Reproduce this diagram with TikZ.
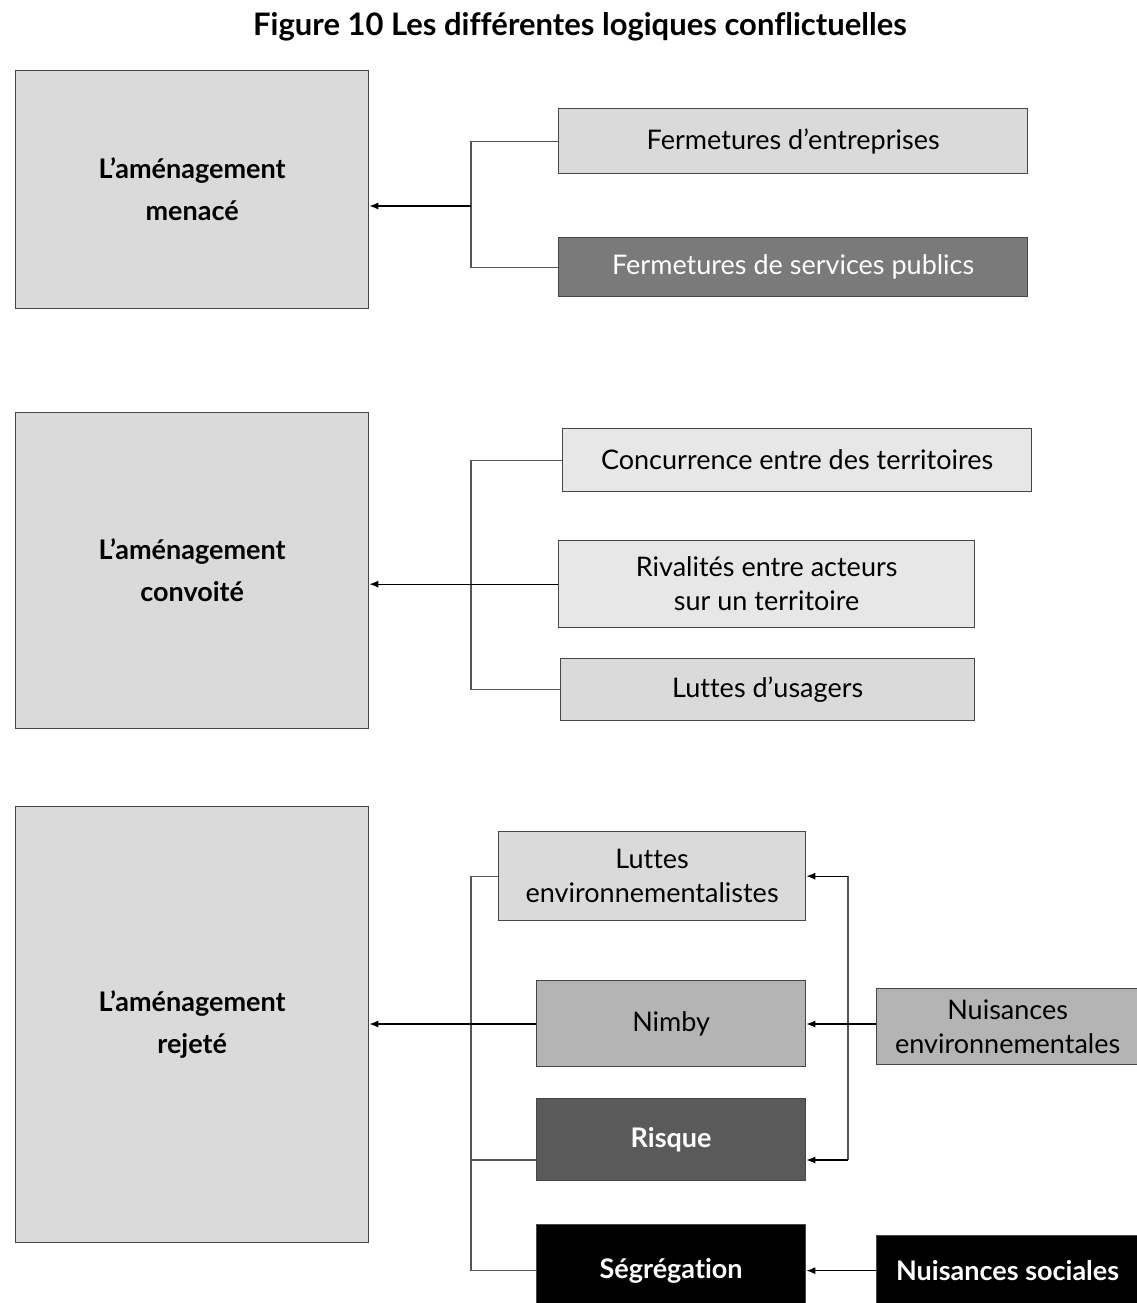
\documentclass[tikz,border=0pt]{standalone}
\usepackage{fontspec}
\setmainfont{Lato}[Ligatures=NoCommon]
\usepackage{tikz}
\usepackage{xcolor}
\usetikzlibrary{shapes,arrows,arrows.meta,positioning,calc}
\definecolor{boxgrey}{RGB}{218,218,218}
\definecolor{palegrey}{RGB}{231,231,231}
\definecolor{midgrey}{RGB}{180,180,180}
\definecolor{darkgrey}{RGB}{122,122,122}
\definecolor{deepgrey}{RGB}{90,90,90}
\definecolor{framegrey}{RGB}{70,70,70}
\definecolor{linkgrey}{RGB}{85,85,85}

\begin{document}
\begin{tikzpicture}[x=1pt,y=-1pt,
    box/.style={draw=framegrey,line width=1.3pt,anchor=north west,align=center,
        inner sep=2pt,font=\fontsize{27}{34}\selectfont},
    boldbox/.style={box,text=white,font=\fontsize{27}{34}\selectfont\bfseries},
    mainbox/.style={box,fill=boxgrey,minimum width=353pt,font=\fontsize{27}{42}\selectfont\bfseries},
    link/.style={draw=linkgrey,line width=1.2pt},
    arrow/.style={link,draw=black,-{Latex[length=9pt,width=7pt]}}]
    \useasboundingbox (0,0) rectangle (1136,1303);
    \node (title) at (580,27) {\fontsize{31}{34}\selectfont\bfseries Figure 10 Les différentes logiques conflictuelles};

    % L'amenagement menace
    \node[mainbox,minimum height=238pt] (m1) at (15,70) {L’aménagement\\menacé};
    \node[box,fill=boxgrey,minimum width=469pt,minimum height=65pt] (fe) at (558,108) {Fermetures d’entreprises};
    \node[box,fill=darkgrey,text=white,minimum width=469pt,minimum height=59pt] (fsp) at (558,237) {Fermetures de services publics};
    \coordinate (j1) at (471,206);
    \draw[link] (fe.west) -| (j1) |- (fsp.west);
    \draw[arrow] (j1) -- (j1 -| m1.east);

    % L'amenagement convoite
    \node[mainbox,minimum height=316pt] (m2) at (15,412) {L’aménagement\\convoité};
    \node[box,fill=palegrey,minimum width=469pt,minimum height=63pt] (conc) at (562,428) {Concurrence entre des territoires};
    \node[box,fill=palegrey,minimum width=416pt,minimum height=87pt] (riv) at (558,540) {Rivalités entre acteurs\\sur un territoire};
    \node[box,fill=boxgrey,minimum width=414pt,minimum height=62pt] (lu) at (560,658) {Luttes d’usagers};
    \coordinate (j2) at (471,584);
    \draw[link] (conc.west) -| (j2) |- (lu.west);
    \draw[arrow] (riv.west) -- (riv.west -| m2.east);

    % L'amenagement rejete
    \node[mainbox,minimum height=436pt] (m3) at (15,806) {L’aménagement\\rejeté};
    \node[box,fill=boxgrey,minimum width=307pt,minimum height=89pt] (le) at (498,831) {Luttes\\environnementalistes};
    \node[box,fill=midgrey,minimum width=269pt,minimum height=86pt] (nim) at (536,980) {Nimby};
    \node[boldbox,fill=deepgrey,minimum width=269pt,minimum height=82pt] (risq) at (536,1098) {Risque};
    \node[boldbox,fill=black,minimum width=269pt,minimum height=92pt] (seg) at (536,1224) {Ségrégation};
    \node[box,fill=midgrey,minimum width=262pt,minimum height=76pt] (nenv) at (876,988) {Nuisances\\environnementales};
    \node[boldbox,fill=black,minimum width=262pt,minimum height=70pt] (nsoc) at (876,1235) {Nuisances sociales};
    \coordinate (j3) at (471,1024);
    \coordinate (k3) at (848,1024);
    \coordinate (k3b) at (848,1160);
    \draw[link] (le.west) -| (j3) |- (seg.west);
    \draw[link] (risq.west |- k3b) -- (k3b -| j3);
    \draw[arrow] (nim.west |- j3) -- (j3 -| m3.east);
    \draw[link] (le.east -| k3) -- (k3b);
    \draw[arrow] (le.east -| k3) -- (le.east);
    \draw[arrow] (k3b) -- (k3b -| risq.east);
    \draw[arrow] (nenv.west |- k3) -- (k3 -| nim.east);
    \draw[arrow] (nsoc.west |- seg.west) -- (seg.east);
\end{tikzpicture}
\end{document}
